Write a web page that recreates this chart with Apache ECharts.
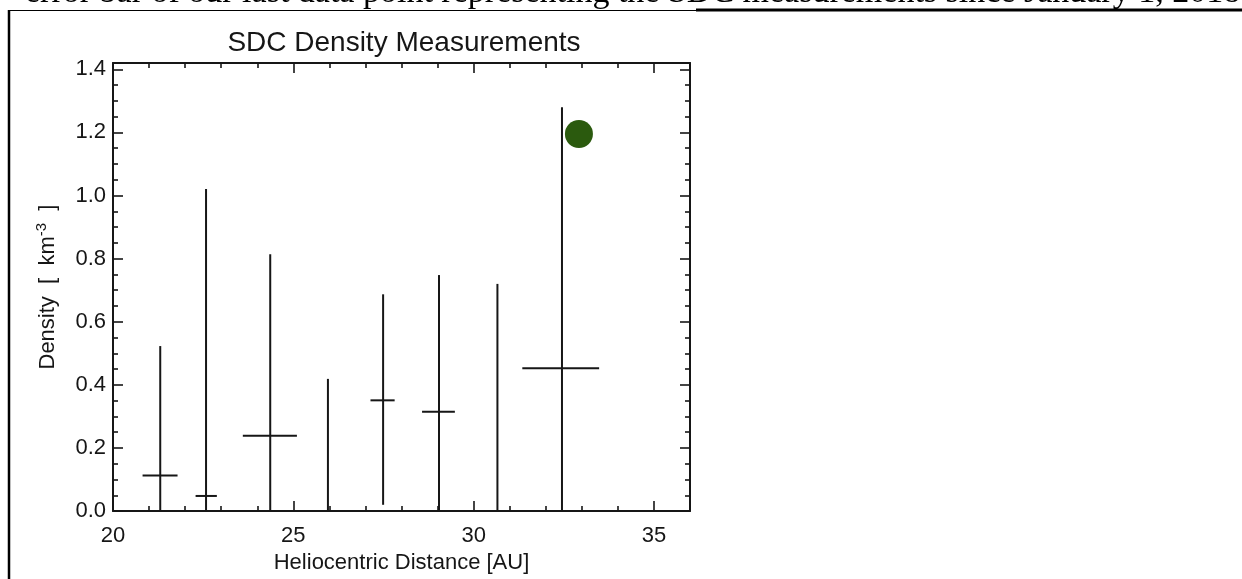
<!DOCTYPE html>
<html>
<head>
<meta charset="utf-8">
<script src="https://cdn.jsdelivr.net/npm/echarts@6/dist/echarts.min.js"></script>
<style>
html,body{margin:0;padding:0;background:#fff;}
#chart{width:1242px;height:579px;}
</style>
</head>
<body>
<div id="chart"></div>
<script>
// Data
const distance     = [21.31, 22.58, 24.36, 25.96, 27.49, 29.04, 30.66, 32.45];
const distanceLow  = [20.82, 22.29, 23.60, 25.96, 27.14, 28.57, 30.66, 31.35];
const distanceHigh = [21.79, 22.88, 25.10, 25.96, 27.81, 29.48, 30.66, 33.48];
const density      = [0.113, 0.048, 0.239, 0.0, 0.351, 0.315, 0.0, 0.453];
const densityLow   = [0.0, 0.0, 0.0, 0.0, 0.02, 0.0, 0.0, 0.0];
const densityHigh  = [0.523, 1.021, 0.814, 0.419, 0.687, 0.748, 0.720, 1.280];
const latestPoint  = [[32.92, 1.195]];
const xTicks = [20, 25, 30, 35];
const yTicks = [0.0, 0.2, 0.4, 0.6, 0.8, 1.0, 1.2, 1.4];
const titleText = 'SDC Density Measurements';
const xName = 'Heliocentric Distance [AU]';
const yName = 'Density  [  km{sup|-3}  ]';
const topCaption = 'error bar of our last data point representing the SDC measurements since January 1, 2018';

const errData = distance.map((d, i) => [d, density[i], distanceLow[i], distanceHigh[i], densityLow[i], densityHigh[i]]);

const chart = echarts.init(document.getElementById('chart'), null, {renderer: 'canvas'});
const font = 'Liberation Sans, Arial, Helvetica, sans-serif';
const ink = '#161616';

const baseAxisLine = {show: true, onZero: false, lineStyle: {color: ink, width: 2}};

const xCommon = {
  type: 'value', min: 20, max: 36, interval: 5,
  axisLine: baseAxisLine,
  axisTick: {show: true, inside: true, length: 10, lineStyle: {color: ink, width: 1.6}},
  minorTick: {show: true, splitNumber: 5, length: 5, lineStyle: {color: ink, width: 1.6}},
  splitLine: {show: false}
};
const yCommon = {
  type: 'value', min: 0, max: 1.42, interval: 0.2,
  axisLine: baseAxisLine,
  axisTick: {show: true, inside: true, length: 10, lineStyle: {color: ink, width: 1.6}},
  minorTick: {show: true, splitNumber: 4, length: 5, lineStyle: {color: ink, width: 1.6}},
  splitLine: {show: false}
};

const option = {
  backgroundColor: '#fff',
  animation: false,
  title: {
    text: titleText, left: 399, top: 24, textAlign: 'center',
    textStyle: {fontFamily: font, fontSize: 28, fontWeight: 'normal', color: ink}
  },
  grid: {left: 113, top: 63, width: 577, height: 452, containLabel: false},
  xAxis: [
    Object.assign({}, xCommon, {
      position: 'bottom',
      name: xName, nameLocation: 'middle', nameGap: 33,
      nameTextStyle: {fontFamily: font, fontSize: 22, color: ink},
      axisLabel: {
        show: true, margin: 14, fontFamily: font, fontSize: 22, color: ink,
        formatter: v => xTicks.indexOf(v) >= 0 ? String(v) : ''
      }
    }),
    Object.assign({}, xCommon, {position: 'top', axisLabel: {show: false}})
  ],
  yAxis: [
    Object.assign({}, yCommon, {
      position: 'left',
      name: yName, nameLocation: 'middle', nameGap: 52,
      nameTextStyle: {
        fontFamily: font, fontSize: 22, color: ink,
        rich: {sup: {fontFamily: font, fontSize: 15, color: ink, verticalAlign: 'top', padding: [0, 0, 12, 0]}}
      },
      axisLabel: {
        show: true, margin: 7, fontFamily: font, fontSize: 22, color: ink,
        formatter: v => {
          const hit = yTicks.find(t => Math.abs(t - v) < 1e-6);
          return hit === undefined ? '' : hit.toFixed(1);
        }
      }
    }),
    Object.assign({}, yCommon, {position: 'right', axisLabel: {show: false}})
  ],
  graphic: [
    {type: 'line', shape: {x1: 9, y1: 10, x2: 9, y2: 579}, style: {stroke: '#000', lineWidth: 2.5}},
    {type: 'line', shape: {x1: 9, y1: 10.5, x2: 696, y2: 10.5}, style: {stroke: '#000', lineWidth: 1.2}},
    {type: 'line', shape: {x1: 696, y1: 10, x2: 1242, y2: 10}, style: {stroke: '#000', lineWidth: 3}},
    {type: 'text', x: 25, y: -7, style: {text: topCaption, fill: '#000', font: '34px "Liberation Serif", "DejaVu Serif", serif', verticalAlign: 'middle'}}
  ],
  series: [
    {
      type: 'custom',
      xAxisIndex: 0, yAxisIndex: 0,
      clip: true,
      data: errData,
      renderItem: function (params, api) {
        const x = api.value(0), y = api.value(1);
        const xl = api.value(2), xh = api.value(3);
        const yl = api.value(4), yh = api.value(5);
        const pTop = api.coord([x, yh]);
        const pBot = api.coord([x, yl]);
        const pL = api.coord([xl, y]);
        const pR = api.coord([xh, y]);
        const style = {stroke: ink, lineWidth: 2};
        const children = [
          {type: 'line', shape: {x1: pTop[0], y1: pTop[1], x2: pBot[0], y2: pBot[1]}, style: style}
        ];
        if (xh > xl) {
          children.push({type: 'line', shape: {x1: pL[0], y1: pL[1], x2: pR[0], y2: pR[1]}, style: style});
        }
        return {type: 'group', children: children};
      },
      z: 3
    },
    {
      type: 'scatter',
      xAxisIndex: 0, yAxisIndex: 0,
      data: latestPoint,
      symbol: 'circle', symbolSize: 28,
      itemStyle: {color: '#2b5a0e', opacity: 1},
      z: 4
    }
  ]
};
chart.setOption(option);
</script>
</body>
</html>
